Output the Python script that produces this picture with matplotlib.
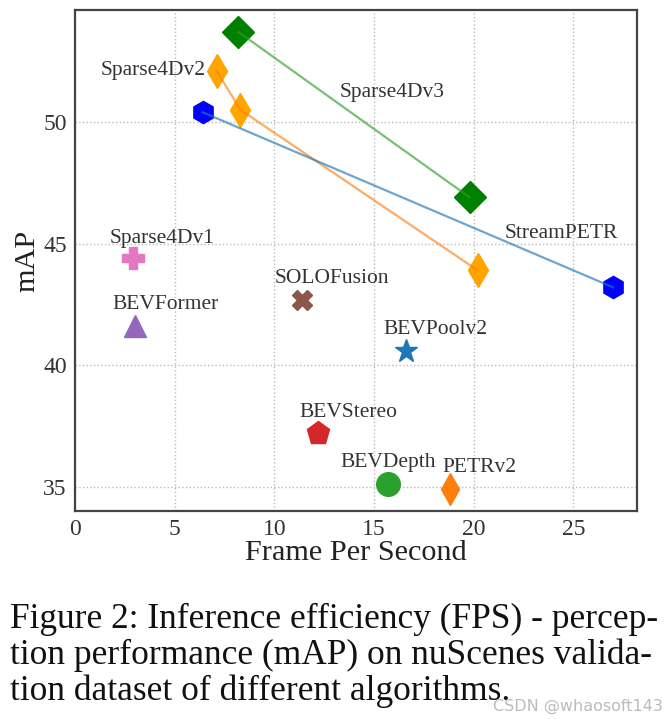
import matplotlib
matplotlib.use("Agg")
import matplotlib.pyplot as plt

plt.rcParams['font.family'] = ['Liberation Serif', 'DejaVu Serif']

# series with several versions (connected by lines)
v3_fps = [8.2, 19.8]
v3_map = [53.7, 46.9]
v2_fps = [7.1, 8.3, 20.2]
v2_map = [52.1, 50.5, 43.9]
stream_fps = [6.4, 27.0]
stream_map = [50.4, 43.2]

# single methods
single_names = ['Sparse4Dv1', 'BEVFormer', 'SOLOFusion', 'BEVPoolv2',
                'BEVStereo', 'BEVDepth', 'PETRv2']
single_fps = [2.9, 3.0, 11.4, 16.6, 12.2, 15.7, 18.8]
single_map = [44.4, 41.6, 42.7, 40.6, 37.2, 35.1, 34.9]
single_markers = ['P', '^', 'X', '*', 'p', 'o', 'd']
single_colors = ['tab:pink', 'tab:purple', 'tab:brown', 'tab:blue',
                 'tab:red', 'tab:green', 'tab:orange']
single_sizes = [16, 16, 15, 17, 17, 17, 16]
# label offsets in points
single_offsets = [(21, 14), (22, 15.5), (21.5, 15), (21.5, 15.5),
                  (21.5, 15), (0, 15.5), (21.5, 15.5)]

fig = plt.figure(figsize=(6.7, 7.23), dpi=100)
ax = fig.add_axes([0.112, 0.293, 0.839, 0.693])

# connected series: markers below, line on top
ax.plot(v3_fps, v3_map, 'D', color='green', markersize=16, zorder=3)
ax.plot(v3_fps, v3_map, '-', color='tab:green', alpha=0.65, linewidth=1.6, zorder=4)
ax.plot(v2_fps, v2_map, 'd', color='orange', markersize=17, zorder=3)
ax.plot(v2_fps, v2_map, '-', color='tab:orange', alpha=0.65, linewidth=1.6, zorder=4)
ax.plot(stream_fps, stream_map, 'h', color='blue', markersize=16, zorder=3)
ax.plot(stream_fps, stream_map, '-', color='tab:blue', alpha=0.65, linewidth=1.6, zorder=4)

for name, x, y, m, c, s, off in zip(single_names, single_fps, single_map,
                                     single_markers, single_colors,
                                     single_sizes, single_offsets):
    ax.plot(x, y, m, color=c, markersize=s, zorder=3)
    ax.annotate(name, (x, y), xytext=off, textcoords='offset points',
                ha='center', va='center', fontsize=15.5, color='#333333')

ax.annotate('Sparse4Dv2', (v2_fps[0], v2_map[0]), xytext=(-8, 0),
            textcoords='offset points', ha='right', va='center',
            fontsize=15.5, color='#333333')
ax.annotate('Sparse4Dv3', (15.9, 51.2), ha='center', va='center',
            fontsize=15.5, color='#333333')
ax.annotate('StreamPETR', (24.4, 45.4), ha='center', va='center',
            fontsize=15.5, color='#333333')

ax.set_xlim(0, 28.2)
ax.set_ylim(34, 54.6)
ax.set_xticks([0, 5, 10, 15, 20, 25])
ax.set_yticks([35, 40, 45, 50])
ax.tick_params(length=0, labelsize=17, pad=6, labelcolor='#333333')
ax.grid(True, linestyle=':', color='#bbbbbb', linewidth=1.0)
ax.set_axisbelow(True)
for sp in ax.spines.values():
    sp.set_linewidth(1.6)
    sp.set_color('#444444')

ax.set_xlabel('Frame Per Second', fontsize=21.8, color='#222222', labelpad=0)
ax.set_ylabel('mAP', fontsize=21.8, color='#222222', labelpad=2)

caption = ("Figure 2: Inference efficiency (FPS) - percep-\n"
           "tion performance (mAP) on nuScenes valida-\n"
           "tion dataset of different algorithms.")
fig.text(0.015, 0.166, caption, fontsize=25.5, ha='left', va='top',
         linespacing=1.1, color='#111111')
fig.text(0.99, 0.012, 'CSDN @whaosoft143', fontsize=11.5, ha='right',
         va='bottom', color='#bbbbbb', family=['DejaVu Sans'])

fig.savefig('out.png', dpi=100)
